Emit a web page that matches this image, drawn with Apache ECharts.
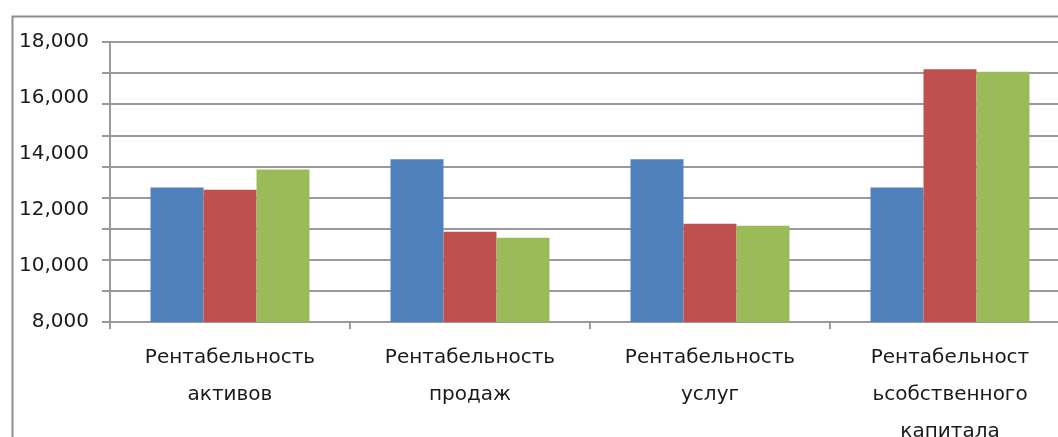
<!DOCTYPE html>
<html>
<head>
<meta charset="utf-8">
<script src="https://cdn.jsdelivr.net/npm/echarts@6/dist/echarts.min.js"></script>
<style>
  html, body { margin: 0; padding: 0; background: #fff; }
  #chart { width: 1058px; height: 437px; }
</style>
</head>
<body>
<div id="chart"></div>
<script>
// Показатели рентабельности по трём периодам
const categories = [
  'Рентабельность\nактивов',
  'Рентабельность\nпродаж',
  'Рентабельность\nуслуг',
  'Рентабельност\nьсобственного\nкапитала'
];
const series1 = [12.80, 13.81, 13.81, 12.80];
const series2 = [12.72, 11.22, 11.51, 17.03];
const series3 = [13.45, 11.01, 11.44, 16.94];
const seriesNames = ['Ряд 1', 'Ряд 2', 'Ряд 3'];
const seriesColors = ['#4F81BD', '#C0504D', '#9BBB59'];
const yMin = 8, yMax = 18, yStep = 2;
const gridDivisions = 9;

const chart = echarts.init(document.getElementById('chart'), null, { renderer: 'canvas' });
const gridColor = '#9a9a9a';
const fontFamily = '"DejaVu Sans", Verdana, sans-serif';

chart.setOption({
  animation: false,
  backgroundColor: '#ffffff',
  graphic: [{
    type: 'rect',
    left: 10, top: 14,
    shape: { width: 1100, height: 500 },
    style: { fill: 'none', stroke: '#8e8e8e', lineWidth: 2 },
    silent: true,
    z: 0
  }],
  grid: {
    left: 110, top: 42, width: 960, height: 280,
    containLabel: false,
    outerBoundsMode: 'none'
  },
  xAxis: {
    type: 'category',
    data: categories,
    axisLine: { show: true, lineStyle: { color: gridColor, width: 2 } },
    axisTick: { show: true, length: 7, lineStyle: { color: gridColor, width: 2 } },
    axisLabel: {
      color: '#1a1a1a',
      fontFamily: fontFamily,
      fontSize: 20,
      lineHeight: 37,
      margin: 17,
      interval: 0
    }
  },
  yAxis: [{
    type: 'value',
    min: yMin, max: yMax, interval: yStep,
    position: 'left',
    axisLine: { show: false },
    axisTick: { show: false },
    splitLine: { show: false },
    axisLabel: {
      color: '#1a1a1a',
      fontFamily: fontFamily,
      fontSize: 20,
      margin: 21,
      formatter: v => v.toFixed(3).replace('.', ',')
    }
  }, {
    type: 'value',
    min: 0, max: gridDivisions, interval: 1,
    position: 'left',
    axisLine: { show: true, lineStyle: { color: gridColor, width: 2 } },
    axisTick: { show: true, length: 8, lineStyle: { color: gridColor, width: 2 } },
    axisLabel: { show: false },
    splitLine: { show: true, lineStyle: { color: gridColor, width: 2 } }
  }],
  series: [series1, series2, series3].map((data, i) => ({
    name: seriesNames[i],
    type: 'bar',
    yAxisIndex: 0,
    data: data,
    barWidth: 53,
    barGap: '0%',
    itemStyle: { color: seriesColors[i] },
    z: 3
  }))
});
</script>
</body>
</html>
